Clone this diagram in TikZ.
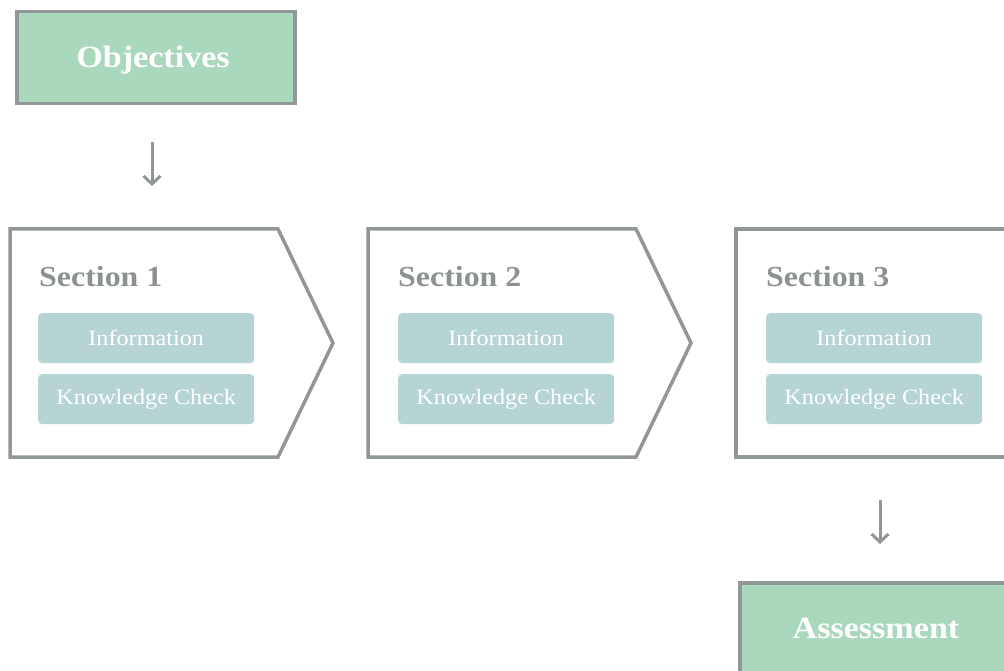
\documentclass[tikz,border=0pt]{standalone}
\usepackage{fontspec}
\setmainfont{Liberation Serif}[FakeStretch=1.1]
\usetikzlibrary{arrows.meta}
\definecolor{framegray}{HTML}{919698}
\definecolor{titlegray}{HTML}{8C9293}
\definecolor{mint}{HTML}{AAD8BC}
\definecolor{teal}{HTML}{B7D4D4}
\tikzset{
  objbox/.style={draw=framegray, line width=3.5pt, fill=mint, inner sep=0pt, anchor=north west},
  objtext/.style={text=white, font=\bfseries\fontsize{31}{34}\selectfont, inner sep=0pt, anchor=base},
  secframe/.style={draw=framegray, line width=3.5pt, line join=miter},
  sectitle/.style={text=titlegray, font=\bfseries\fontsize{29}{32}\selectfont, anchor=base west, inner sep=0pt},
  itembox/.style={fill=teal, rounded corners=4pt, text=white, font=\fontsize{22}{24}\selectfont, minimum width=216pt, minimum height=50pt, inner sep=0pt, anchor=north west},
  arr/.style={draw=framegray, line width=3pt, -{Straight Barb[length=8pt,width=17pt,line width=3pt]}}
}
\begin{document}
\begin{tikzpicture}[x=1pt,y=-1pt]
\useasboundingbox (0,0) rectangle (1004,671);
\clip (0,0) rectangle (1004,671);
% Objectives
\node[objbox, minimum width=278pt, minimum height=92pt] (obj) at (15,10) {};
\node[objtext] (objt) at (153,68) {Objectives};
\coordinate (a1s) at (152,142);
\coordinate (a1e) at (152,186);
\draw[arr] (a1s) -- (a1e);
% Section 1
\draw[secframe] (10,229) -- (278,229) -- (333,343) -- (278,457) -- (10,457) -- cycle;
\node[sectitle] (t1) at (39,286) {Section 1};
\node[itembox] (i1) at (38,313) {Information};
\node[itembox] (k1) at (38,374) {Knowledge Check};
% Section 2
\draw[secframe] (368,229) -- (636,229) -- (691,343) -- (636,457) -- (368,457) -- cycle;
\node[sectitle] (t2) at (398,286) {Section 2};
\node[itembox] (i2) at (398,313) {Information};
\node[itembox] (k2) at (398,374) {Knowledge Check};
% Section 3
\draw[secframe] (1020,229) -- (736,229) -- (736,457) -- (1020,457);
\node[sectitle] (t3) at (766,286) {Section 3};
\node[itembox] (i3) at (766,313) {Information};
\node[itembox] (k3) at (766,374) {Knowledge Check};
% Arrow to assessment
\coordinate (a2s) at (880,500);
\coordinate (a2e) at (880,544);
\draw[arr] (a2s) -- (a2e);
% Assessment
\node[objbox, minimum width=300pt, minimum height=100pt] (ass) at (738,581) {};
\node[objtext] (asst) at (876,638) {Assessment};
\end{tikzpicture}
\end{document}
